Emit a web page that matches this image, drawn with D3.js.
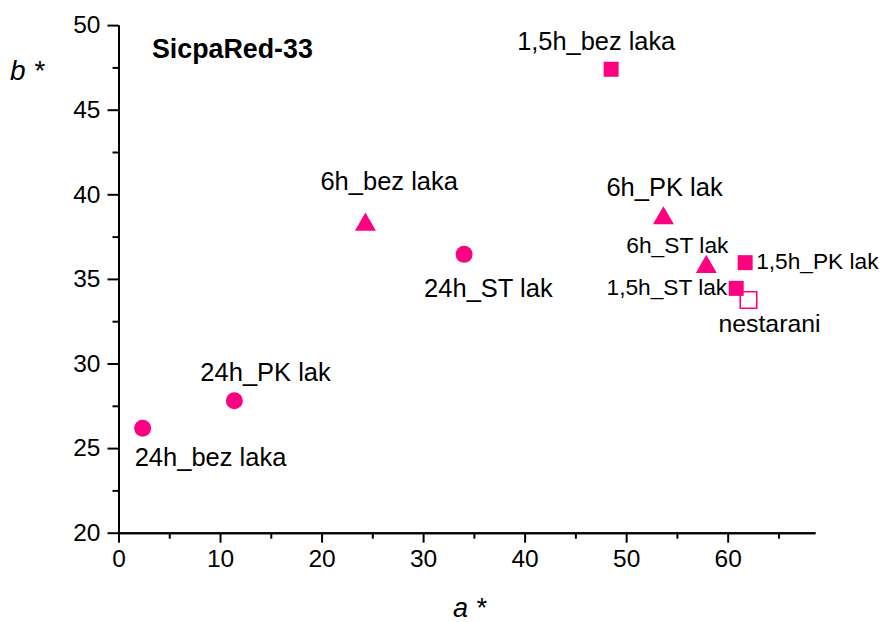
<!DOCTYPE html>
<html>
<head>
<meta charset="utf-8">
<script src="https://cdn.jsdelivr.net/npm/d3@7"></script>
<style>
  html, body { margin: 0; padding: 0; background: #fff; }
  svg { display: block; font-family: "Liberation Sans", Arial, Helvetica, sans-serif; }
</style>
</head>
<body>
<svg id="chart" width="882" height="622"></svg>
<script>
// Sample names, CIELAB a* and b* coordinates, and marker group
const samples = ["24h_bez laka", "24h_PK lak", "24h_ST lak", "6h_bez laka", "6h_PK lak",
                 "6h_ST lak", "1,5h_PK lak", "1,5h_ST lak", "nestarani", "1,5h_bez laka"];
const aStar = [2.38, 11.41, 34.04, 24.32, 53.67, 57.89, 61.72, 60.84, 62.05, 48.52];
const bStar = [26.17, 27.80, 36.45, 38.39, 38.76, 35.89, 35.96, 34.44, 33.75, 47.39];
const group = ["24h", "24h", "24h", "6h", "6h", "6h", "1,5h", "1,5h", "ref", "1,5h"];

const xMajorTicks = [0, 10, 20, 30, 40, 50, 60];
const yMajorTicks = [20, 25, 30, 35, 40, 45, 50];
const chartTitle = "SicpaRed-33";

// Label placement relative to each marker: [dx, dy, anchor, font size]
const labelPlacement = [
  [-8, 38, "start", 25.5], [-34, -20, "start", 25.5], [-40, 43, "start", 25.5],
  [-45, -32, "start", 25.5], [-57, -19, "start", 25.5], [-80, -11, "start", 22.8],
  [11, 6, "start", 22.7], [-9, 7, "end", 22.7], [-30, 32, "start", 24.8],
  [-94, -19, "start", 25.4]
];

const pink = "#ff0080";
const svg = d3.select("#chart");

const x = d3.scaleLinear().domain([0, 68.6]).range([118.5, 815]);
const y = d3.scaleLinear().domain([20, 50]).range([532.7, 25.1]);

// Triangle centred on its bounding box
const triangleBox = {
  draw(ctx, size) {
    const s = Math.sqrt(size * 4 / Math.sqrt(3));
    const h = s * Math.sqrt(3) / 2;
    ctx.moveTo(0, -h / 2);
    ctx.lineTo(s / 2, h / 2);
    ctx.lineTo(-s / 2, h / 2);
    ctx.closePath();
  }
};
const symbolFor = {
  "24h": d3.symbol(d3.symbolCircle, 227),
  "6h": d3.symbol(triangleBox, 191),
  "1,5h": d3.symbol(d3.symbolSquare, 225),
  "ref": d3.symbol(d3.symbolSquare, 272)
};

// Axes
const styleAxis = g => {
  g.select(".domain").attr("stroke", "#000").attr("stroke-width", 2);
  g.selectAll(".tick line").attr("stroke", "#000").attr("stroke-width", 2);
  g.selectAll(".tick text").attr("fill", "#000").attr("font-family", "Liberation Sans, Arial, sans-serif");
};

svg.append("g")
  .attr("transform", `translate(0,${y(20)})`)
  .call(d3.axisBottom(x).tickValues(d3.range(5, 66, 10)).tickSize(6).tickSizeOuter(0).tickFormat(""))
  .call(styleAxis);
svg.append("g")
  .attr("transform", `translate(0,${y(20)})`)
  .call(d3.axisBottom(x).tickValues(xMajorTicks).tickSize(10).tickPadding(7).tickSizeOuter(0))
  .call(styleAxis)
  .call(g => g.selectAll(".tick text").attr("font-size", 24.5));

svg.append("g")
  .attr("transform", `translate(${x(0)},0)`)
  .call(d3.axisLeft(y).tickValues(d3.range(22.5, 50, 5)).tickSize(6).tickSizeOuter(0).tickFormat(""))
  .call(styleAxis);
svg.append("g")
  .attr("transform", `translate(${x(0)},0)`)
  .call(d3.axisLeft(y).tickValues(yMajorTicks).tickSize(11).tickPadding(7).tickSizeOuter(0))
  .call(styleAxis)
  .call(g => g.selectAll(".tick text").attr("font-size", 24.5));

// Axis titles
svg.append("text").attr("x", 10).attr("y", 80)
  .attr("font-size", 28).attr("font-style", "italic").text("b *");
svg.append("text").attr("x", 453).attr("y", 617)
  .attr("font-size", 27).attr("font-style", "italic").text("a *");

// Chart title
svg.append("text").attr("x", 152).attr("y", 58)
  .attr("font-size", 26.8).attr("font-weight", "bold").text(chartTitle);

// Markers: reference (unaged) sample first, filled markers on top
const idx = d3.range(samples.length).sort((i, j) => (group[j] === "ref") - (group[i] === "ref"));
svg.append("g").selectAll("path")
  .data(idx)
  .join("path")
  .attr("transform", i => `translate(${x(aStar[i])},${y(bStar[i])})`)
  .attr("d", i => symbolFor[group[i]]())
  .attr("fill", i => group[i] === "ref" ? "#fff" : pink)
  .attr("stroke", i => group[i] === "ref" ? pink : "none")
  .attr("stroke-width", 1.6);

// Point labels
svg.append("g").selectAll("text")
  .data(d3.range(samples.length))
  .join("text")
  .attr("x", i => x(aStar[i]) + labelPlacement[i][0])
  .attr("y", i => y(bStar[i]) + labelPlacement[i][1])
  .attr("text-anchor", i => labelPlacement[i][2])
  .attr("font-size", i => labelPlacement[i][3])
  .text(i => samples[i]);
</script>
</body>
</html>
